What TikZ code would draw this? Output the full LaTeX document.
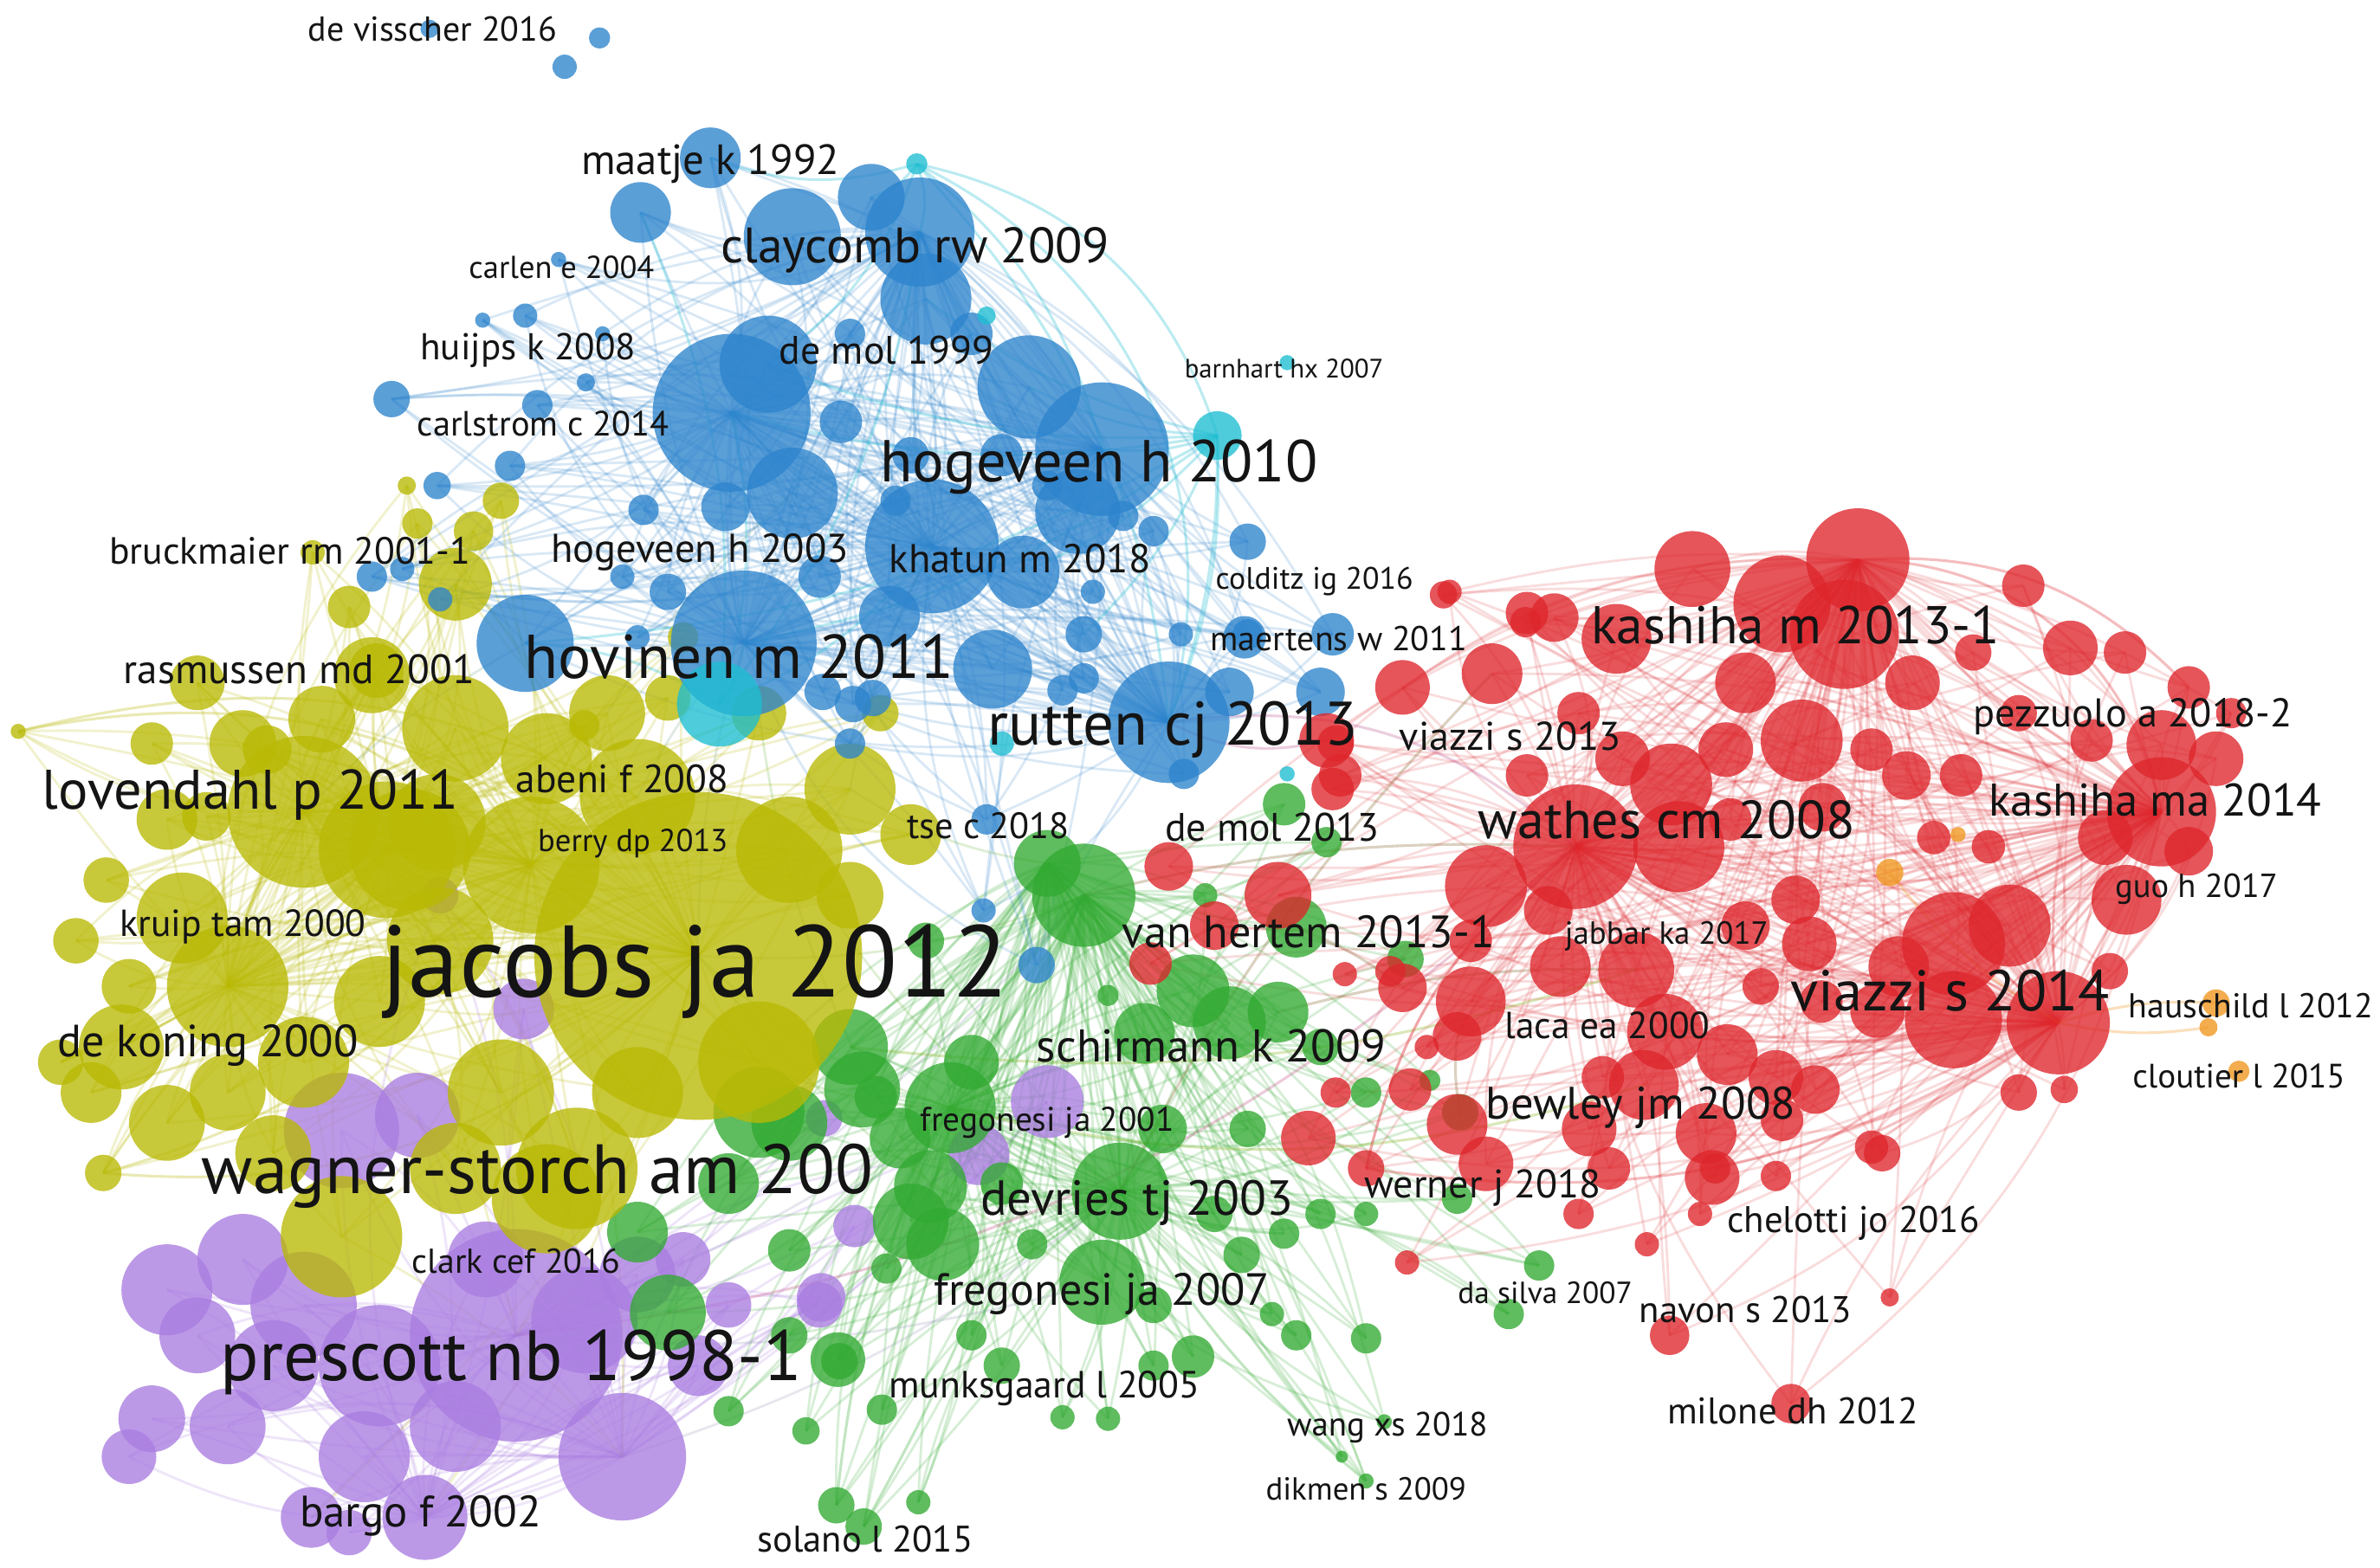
\documentclass[tikz,border=0pt]{standalone}
\usepackage{fontspec}
\setmainfont{PT Sans}
\usepackage{graphicx}
\newcommand\lbw[2]{\resizebox{#1mm}{!}{#2}}
\definecolor{cY}{RGB}{185,185,5}
\definecolor{cP}{RGB}{170,125,225}
\definecolor{cG}{RGB}{50,170,50}
\definecolor{cB}{RGB}{45,132,205}
\definecolor{cC}{RGB}{30,190,210}
\definecolor{cR}{RGB}{222,38,44}
\definecolor{cO}{RGB}{240,150,30}
\definecolor{txt}{RGB}{20,20,20}
\tikzset{
  bub/.style={fill opacity=0.78},
  lnk/.style={line width=0.45pt, draw opacity=0.2},
  xlnk/.style={line width=0.5pt, draw opacity=0.3},
  lab/.style={inner sep=0pt, text=txt}
}
\def\Ylist{460/630/108, 200/535/50, 255/560/45, 150/650/40, 350/570/45, 420/525/38, 300/480/35, 245/445/25, 300/385/24, 312/350/13, 212/474/22, 160/490/22, 130/450/18, 110/540/20, 120/605/30, 80/690/28, 60/720/20, 110/740/25, 150/720/25, 200/700/30, 250/660/30, 290/620/35, 330/720/35, 380/770/40, 225/815/40, 360/790/36, 300/770/30, 68/773/12, 12/482/5, 268/320/6, 206/364/8, 270/560/40, 560/520/30, 600/550/20, 520/560/35, 400/470/25, 360/500/30, 580/470/12, 440/460/15, 50/620/15, 70/580/15, 40/700/15, 180/760/25, 420/720/30, 500/700/40, 450/420/10, 248/442/18, 176/494/16, 136/538/16, 288/542/32, 230/400/14, 330/330/12, 275/345/10, 100/490/14, 85/650/18, 500/470/18, 560/590/22, 385/478/10}
\def\Plist{340/880/70, 410/960/42, 280/1000/28, 205/1000/20, 100/935/22, 85/960/18, 110/850/30, 160/830/30, 200/860/35, 250/900/40, 225/745/38, 275/735/28, 180/900/30, 150/940/25, 240/960/30, 300/940/30, 385/870/35, 420/840/25, 460/900/20, 480/860/15, 540/860/15, 563/808/14, 541/855/16, 543/737/12, 690/726/24, 645/761/20, 290/590/12, 345/665/20, 130/880/25, 450/830/18, 230/1010/15, 320/830/25}
\def\Glist{714/590/34, 738/785/32, 626/730/30, 690/569/22, 854/611/20, 786/653/24, 810/674/24, 754/681/20, 842/667/20, 593/750/20, 613/782/24, 726/845/28, 621/820/24, 766/744/16, 822/744/12, 870/800/10, 846/813/10, 818/827/12, 786/894/14, 854/880/10, 900/882/10, 838/866/8, 1014/834/10, 994/866/10, 962/733/12, 926/632/12, 942/712/7, 553/897/12, 581/929/10, 551/992/12, 569/1006/12, 605/990/8, 531/943/9, 700/934/8, 912/937/5, 884/960/4, 900/976/5, 577/723/14, 730/656/7, 794/590/8, 846/530/14, 874/555/10, 560/690/25, 520/740/25, 480/780/20, 420/812/20, 440/865/25, 552/896/18, 520/824/14, 584/836/10, 600/805/25, 568/718/25, 500/733/30, 640/700/18, 660/780/14, 680/820/10, 760/860/12, 640/880/10, 660/900/12, 760/900/10, 730/935/8, 800/800/12, 900/800/8, 960/790/10, 520/880/12, 480/930/10, 610/620/12, 870/690/12, 900/720/10}
\def\Blist{490/424/48, 482/272/52, 726/296/44, 614/360/44, 770/476/40, 606/153/36, 346/424/32, 506/240/32, 468/104/20, 422/140/20, 522/156/32, 574/130/22, 610/197/30, 522/325/30, 478/334/16, 678/255/34, 710/337/28, 674/377/24, 586/406/20, 554/278/14, 654/441/26, 714/418/12, 822/357/12, 778/418/8, 810/456/16, 870/456/16, 822/418/10, 878/418/14, 562/464/12, 542/456/12, 336/307/10, 424/336/10, 354/267/10, 346/208/8, 386/252/6, 368/171/5, 318/211/5, 258/263/12, 288/320/9, 245/380/10, 265/375/8, 290/395/8, 560/490/10, 575/460/12, 650/540/10, 648/600/8, 683/636/12, 700/455/10, 820/420/14, 780/510/10, 714/447/10, 397/220/5, 440/390/12, 420/420/8, 540/380/14, 600/300/12, 660/300/14, 560/220/10, 740/340/10, 690/320/10, 640/220/14, 410/380/8, 720/390/8, 760/350/10, 590/330/10}
\def\Bxlist{283/19/6, 372/44/8, 395/25/7}
\def\Clist{474/464/28, 802/287/16, 604/108/7, 848/239/5, 650/208/6, 848/510/5, 660/490/8}
\def\Rlist{1224/369/34, 1356/674/34, 1038/558/41, 1424/535/36, 1215/418/36, 1115/375/25, 1174/398/32, 1065/421/23, 1024/407/16, 983/444/20, 924/453/18, 951/392/9, 1006/404/14, 1333/386/14, 1364/427/18, 1400/430/14, 1442/453/14, 1424/491/23, 1460/500/18, 1387/552/18, 1378/488/14, 1442/561/16, 1401/593/23, 1324/610/27, 1287/622/34, 1287/672/32, 1251/637/20, 1237/666/18, 1192/622/18, 1183/593/16, 1150/610/16, 1078/639/25, 1097/680/25, 1138/695/20, 1170/710/18, 1083/715/23, 1124/747/20, 1047/744/18, 1028/637/20, 969/660/23, 979/584/27, 969/620/14, 1106/558/30, 1101/517/27, 1137/494/18, 1187/488/27, 1233/494/14, 1069/500/18, 1006/511/14, 1201/532/16, 1274/552/11, 1256/511/16, 1292/511/14, 1310/558/11, 874/488/18, 883/511/14, 924/651/16, 960/683/16, 929/718/14, 960/741/20, 979/767/18, 1360/718/9, 1196/718/16, 1233/756/11, 1128/776/18, 1174/738/14, 1056/710/14, 1240/760/12, 1170/775/10, 1130/770/10, 1120/800/8, 1245/855/6, 1100/880/13, 1180/925/13, 1085/820/8, 1040/800/10, 1060/770/14, 927/832/8, 900/770/12, 880/720/10, 862/750/18, 940/690/8, 886/642/8, 955/390/8, 1005/410/10, 770/571/16, 758/635/14, 842/590/22, 800/610/16, 878/520/14, 880/490/12, 916/640/10, 1300/430/12, 1260/450/18, 1150/450/20, 1040/470/14, 1330/470/12, 1470/470/10, 1390/640/12, 1330/720/12, 1200/660/14, 1160/650/12, 1020/600/16, 1140/540/14}
\def\Olist{1245/575/9, 1290/550/5, 1460/661/9, 1455/677/6, 1475/706/7}
% helpers: #1 prefix, #2 list macro
\newcommand\mkcoords[2]{\foreach \x/\y/\r [count=\i] in #2 {\coordinate (#1\i) at (\x,\y);}}
\newcommand\mklinks[5]{% #1 prefix #2 list #3 colour #4 hubs #5 opacity
  \foreach \x/\y/\r [count=\ib] in #2 {
    \foreach \ia in {1,...,#4}{
      \ifnum\ia<\ib
        \pgfmathtruncatemacro\bn{mod(\ia*37+\ib*17,44)-22}
        \draw[lnk, #3, draw opacity=#5] (#1\ia) to[bend left=\bn] (#1\ib);
      \fi
    }
  }}
\newcommand\mkbubs[2]{\foreach \x/\y/\r in #1 {\fill[bub, #2] (\x,\y) circle (\r);}}
\begin{document}
\begin{tikzpicture}[x=0.01cm, y=-0.01cm]
\useasboundingbox (0,0) rectangle (1568,1033);
\fill[white] (0,0) rectangle (1568,1033);
% named bubble centres
\mkcoords{Y}{\Ylist}
\mkcoords{P}{\Plist}
\mkcoords{G}{\Glist}
\mkcoords{B}{\Blist}
\mkcoords{C}{\Clist}
\mkcoords{R}{\Rlist}
\mkcoords{O}{\Olist}
% links inside clusters
\mklinks{Y}{\Ylist}{cY}{5}{0.2}
\mklinks{P}{\Plist}{cP}{3}{0.2}
\mklinks{G}{\Glist}{cG}{4}{0.2}
\mklinks{B}{\Blist}{cB}{6}{0.18}
\mklinks{R}{\Rlist}{cR}{4}{0.16}
% cyan links
\foreach \ib in {1,2,3,5,7,8,13,16,18,22}{ \draw[xlnk, cC] (C2) to[bend left=12] (B\ib); }
\foreach \ib in {3,5,6,8,9,12}{ \draw[xlnk, cC] (C3) to[bend left=18] (B\ib); }
\draw[xlnk, cC] (C3) to[bend left=30] (C2);
\draw[xlnk, cC] (C2) to[bend left=10] (B5);
\draw[xlnk, cC] (C3) to[bend left=40] (B5);
\foreach \ib in {1,2,4,6,7,10}{ \draw[xlnk, cC] (C1) to[bend right=14] (B\ib); }
% links between clusters
\foreach \ia/\ib in {1/1, 1/3, 2/1, 5/2, 24/1, 25/2, 33/4}{ \draw[lnk, cY] (Y\ia) to[bend left=10] (P\ib); }
\foreach \ia/\ib in {1/1, 1/3, 1/12, 33/4, 35/2, 45/3, 56/11}{ \draw[lnk, cG!70!cY] (Y\ia) to[bend right=12] (G\ib); }
\foreach \ia/\ib in {1/1, 2/7, 6/1, 33/4, 36/14, 9/7}{ \draw[lnk, cB!60!cY] (Y\ia) to[bend left=8] (B\ib); }
\foreach \ia/\ib in {1/1, 2/2, 10/3, 1/12}{ \draw[lnk, cP!70!cG] (P\ia) to[bend right=10] (G\ib); }
\foreach \ia/\ib in {1/3, 2/10, 5/57, 9/32, 25/58}{ \draw[xlnk, cG!50!cR] (G\ia) to[bend left=8] (R\ib); }
\draw[xlnk, cP!60!cR] (B5) to[bend left=25] (R3);
\draw[xlnk, cP!60!cR] (B5) to[bend right=20] (R55);
\draw[xlnk, cG!40!cY] (G43) to[bend right=12] (R32);
\draw[xlnk, cG!40!cY] (G3) to[bend right=15] (R36);
\draw[xlnk, cP!50!cR] (P1) to[bend right=18] (R3);
\draw[xlnk, cY] (Y29) to[bend left=30] (Y1);
\draw[xlnk, cY] (Y28) to[bend right=25] (Y1);
\draw[xlnk, cY] (Y29) to[bend left=20] (Y6);
\draw[xlnk, cY] (Y28) to[bend right=20] (Y5);
\draw[xlnk, cR] (R1) to[bend left=25] (R17);
\draw[xlnk, cR] (R1) to[bend left=40] (R4);
\draw[xlnk, cR] (R2) to[bend left=20] (R79);
\draw[xlnk, cR] (R3) to[bend right=20] (R79);
\draw[xlnk, cO] (O1) to[bend right=10] (R2);
\draw[xlnk, cO] (O3) to[bend right=10] (R2);
\draw[xlnk, cO] (O4) to[bend left=10] (R2);
\draw[xlnk, cG] (G1) to[bend left=10] (G31);
\draw[xlnk, cG] (G3) to[bend right=10] (G30);
\draw[xlnk, cG] (G2) to[bend right=10] (G37);
% bubbles
\mkbubs{\Plist}{cP}
\mkbubs{\Glist}{cG}
\mkbubs{\Ylist}{cY}
\mkbubs{\Blist}{cB}
\mkbubs{\Bxlist}{cB}
\mkbubs{\Clist}{cC}
\mkbubs{\Rlist}{cR}
\mkbubs{\Olist}{cO}
% labels
\node[lab] (n1) at (285,19) {\lbw{16.4}{de visscher 2016}};
\node[lab] (n2) at (468,108) {\lbw{17.0}{maatje k 1992}};
\node[lab] (n3) at (603,165) {\lbw{25.6}{claycomb rw 2009}};
\node[lab] (n4) at (370,176) {\lbw{12.2}{carlen e 2004}};
\node[lab] (n5) at (348,231) {\lbw{14.2}{huijps k 2008}};
\node[lab] (n6) at (584,231) {\lbw{14.1}{de mol 1999}};
\node[lab] (n7) at (846,243) {\lbw{13.1}{barnhart hx 2007}};
\node[lab] (n8) at (358,279) {\lbw{16.6}{carlstrom c 2014}};
\node[lab] (n9) at (724,308) {\lbw{28.8}{hogeveen h 2010}};
\node[lab] (n10) at (191,363) {\lbw{23.8}{bruckmaier rm 2001-1}};
\node[lab] (n11) at (461,364) {\lbw{19.6}{hogeveen h 2003}};
\node[lab] (n12) at (672,368) {\lbw{17.2}{khatun m 2018}};
\node[lab] (n13) at (866,383) {\lbw{13.0}{colditz ig 2016}};
\node[lab] (n14) at (1183,412) {\lbw{26.9}{kashiha m 2013-1}};
\node[lab] (n15) at (197,441) {\lbw{23.1}{rasmussen md 2001}};
\node[lab] (n16) at (487,433) {\lbw{28.3}{hovinen m 2011}};
\node[lab] (n17) at (882,421) {\lbw{16.9}{maertens w 2011}};
\node[lab] (n18) at (773,481) {\lbw{24.4}{rutten cj 2013}};
\node[lab] (n19) at (995,485) {\lbw{14.6}{viazzi s 2013}};
\node[lab] (n20) at (1405,472) {\lbw{21.0}{pezzuolo a 2018-2}};
\node[lab] (n21) at (410,513) {\lbw{14.0}{abeni f 2008}};
\node[lab] (n22) at (165,524) {\lbw{27.4}{lovendahl p 2011}};
\node[lab] (n23) at (1420,527) {\lbw{21.9}{kashiha ma 2014}};
\node[lab] (n24) at (417,556) {\lbw{12.5}{berry dp 2013}};
\node[lab] (n25) at (651,544) {\lbw{10.7}{tse c 2018}};
\node[lab] (n26) at (838,545) {\lbw{14.1}{de mol 2013}};
\node[lab] (n27) at (1098,540) {\lbw{24.8}{wathes cm 2008}};
\node[lab] (n28) at (1447,586) {\lbw{10.7}{guo h 2017}};
\node[lab] (n29) at (160,611) {\lbw{16.2}{kruip tam 2000}};
\node[lab] (n30) at (458,640) {\lbw{41.3}{jacobs ja 2012}};
\node[lab] (n31) at (862,614) {\lbw{24.5}{van hertem 2013-1}};
\node[lab] (n32) at (1098,617) {\lbw{13.4}{jabbar ka 2017}};
\node[lab] (n33) at (1285,653) {\lbw{21.0}{viazzi s 2014}};
\node[lab] (n34) at (1483,663) {\lbw{16.1}{hauschild l 2012}};
\node[lab] (n35) at (137,689) {\lbw{19.8}{de koning 2000}};
\node[lab] (n36) at (798,689) {\lbw{23.0}{schirmann k 2009}};
\node[lab] (n37) at (1059,676) {\lbw{13.5}{laca ea 2000}};
\node[lab] (n38) at (1475,709) {\lbw{14.0}{cloutier l 2015}};
\node[lab] (n39) at (690,740) {\lbw{16.7}{fregonesi ja 2001}};
\node[lab] (n40) at (1081,730) {\lbw{20.4}{bewley jm 2008}};
\node[lab] (n41) at (354,775) {\lbw{44.2}{wagner-storch am 200}};
\node[lab] (n42) at (977,783) {\lbw{15.6}{werner j 2018}};
\node[lab] (n43) at (749,793) {\lbw{20.6}{devries tj 2003}};
\node[lab] (n44) at (1221,806) {\lbw{16.6}{chelotti jo 2016}};
\node[lab] (n45) at (340,831) {\lbw{13.7}{clark cef 2016}};
\node[lab] (n46) at (726,853) {\lbw{22.1}{fregonesi ja 2007}};
\node[lab] (n47) at (1018,852) {\lbw{11.5}{da silva 2007}};
\node[lab] (n48) at (1150,863) {\lbw{14.0}{navon s 2013}};
\node[lab] (n49) at (337,898) {\lbw{38.3}{prescott nb 1998-1}};
\node[lab] (n50) at (688,915) {\lbw{20.5}{munksgaard l 2005}};
\node[lab] (n51) at (1181,930) {\lbw{16.5}{milone dh 2012}};
\node[lab] (n52) at (914,941) {\lbw{13.2}{wang xs 2018}};
\node[lab] (n53) at (900,981) {\lbw{13.2}{dikmen s 2009}};
\node[lab] (n54) at (277,999) {\lbw{15.9}{bargo f 2002}};
\node[lab] (n55) at (570,1014) {\lbw{14.2}{solano l 2015}};
\end{tikzpicture}
\end{document}
